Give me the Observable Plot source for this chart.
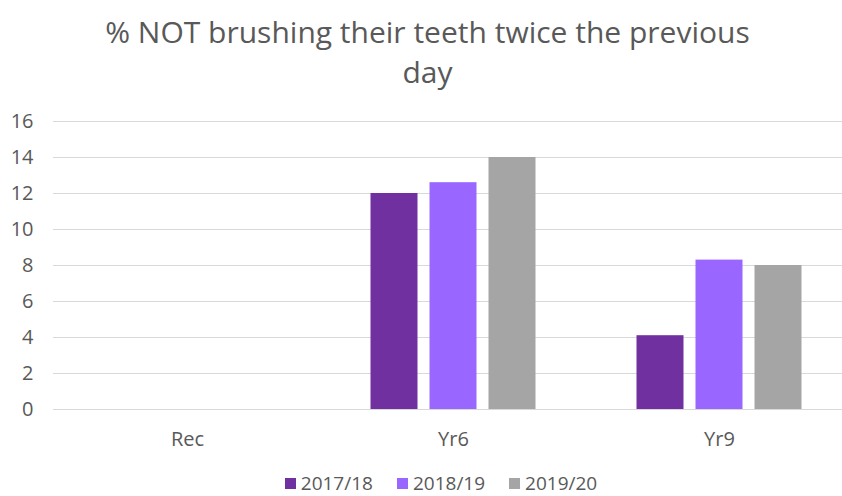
<!DOCTYPE html>
<html>
<head>
<meta charset="utf-8">
<script src="https://cdn.jsdelivr.net/npm/d3@7"></script>
<script src="https://cdn.jsdelivr.net/npm/@observablehq/plot@0.6"></script>
<style>
  html, body { margin: 0; padding: 0; background: #fff; }
  body { width: 842px; height: 496px; position: relative; overflow: hidden; font-family: "Open Sans", sans-serif; color: #595959; }
  #title { position: absolute; left: 13px; top: 12px; width: 829px; padding-right: 0; text-align: center; font-size: 30px; line-height: 40px; color: #595959; white-space: nowrap; }
  #chart { position: absolute; left: 0; top: 100px; }
  #legend { position: absolute; left: 40px; top: 471px; width: 802px; display: flex; justify-content: center; gap: 24px; font-size: 19px; line-height: 24px; }
  .item { display: flex; align-items: center; gap: 5px; }
  .sw { width: 11px; height: 11px; display: inline-block; }
</style>
</head>
<body>
<div id="title">% NOT brushing their teeth twice the previous<br>day</div>
<div id="chart"></div>
<div id="legend"></div>
<script>
const categories = ["Rec", "Yr6", "Yr9"];
const series = ["2017/18", "2018/19", "2019/20"];
const values2017 = [null, 12.0, 4.1];
const values2018 = [null, 12.6, 8.3];
const values2019 = [null, 14.0, 8.0];
const colors = ["#7030a0", "#9966ff", "#a5a5a5"];
const yTicks = [0, 2, 4, 6, 8, 10, 12, 14, 16];

const seriesValues = [values2017, values2018, values2019];
const data = categories.flatMap((c, i) =>
  series.map((s, j) => ({ cat: c, series: s, value: seriesValues[j][i] }))
);

const step = 59;
const barW = 47;
const bandW = (852 - 54) / 3;
const inset = (bandW - barW) / 2;

const barMarks = series.map((s, j) =>
  Plot.barY(data.filter(d => d.series === s && d.value != null), {
    x: "cat", y: "value", fill: colors[j],
    dx: (j - 1) * step, insetLeft: inset, insetRight: inset
  })
);

const chart = Plot.plot({
  width: 842,
  height: 360,
  marginLeft: 53,
  marginRight: 0,
  marginTop: 21,
  marginBottom: 51,
  style: { fontFamily: "Open Sans, sans-serif", fontSize: "20px", color: "#595959", background: "transparent", overflow: "visible" },
  x: { domain: categories, range: [54, 852], padding: 0, label: null },
  y: { domain: [0, 16], label: null },
  marks: [
    Plot.ruleY(yTicks, { stroke: "#d9d9d9", strokeWidth: 1 }),
    ...barMarks,
    Plot.axisY({ ticks: yTicks, tickSize: 0, tickPadding: 20, fontSize: 20, fill: "#595959", label: null }),
    Plot.axisX({ tickSize: 0, tickPadding: 22, fontSize: 20, fill: "#595959", label: null })
  ]
});
document.getElementById("chart").appendChild(chart);

const legend = document.getElementById("legend");
series.forEach((s, j) => {
  const item = document.createElement("span");
  item.className = "item";
  const sw = document.createElement("span");
  sw.className = "sw";
  sw.style.background = colors[j];
  const t = document.createElement("span");
  t.textContent = s;
  item.appendChild(sw);
  item.appendChild(t);
  legend.appendChild(item);
});
</script>
</body>
</html>
